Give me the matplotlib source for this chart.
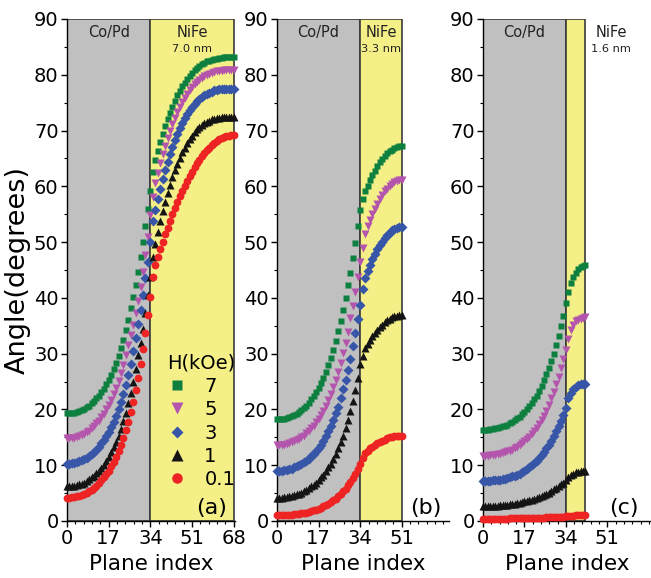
import matplotlib
matplotlib.use("Agg")
import matplotlib.pyplot as plt
from matplotlib.patches import Rectangle
from matplotlib.ticker import MultipleLocator
import numpy as np

fields = ["7", "5", "3", "1", "0.1"]

# panel (a): NiFe 7.0 nm, planes 0..68
a_h7 = [19.3, 19.3, 19.4, 19.4, 19.6, 19.7, 19.9, 20.1, 20.4, 20.7,
        21.1, 21.5, 22.0, 22.5, 23.1, 23.7, 24.5, 25.3, 26.2, 27.2,
        28.3, 29.6, 31.0, 32.5, 34.2, 36.0, 38.1, 40.2, 42.3, 44.7,
        47.4, 50.1, 52.9, 55.9, 59.2, 62.5,
        64.7, 66.4, 67.9, 69.4, 70.8, 72.0, 73.2, 74.3, 75.3, 76.3, 77.1,
        77.9, 78.6, 79.3, 79.8, 80.3, 80.8, 81.2, 81.6, 81.9, 82.1, 82.4,
        82.5, 82.7, 82.8, 82.9, 83.0, 83.0, 83.1, 83.1, 83.1, 83.1, 83.1]
a_h5 = [14.8, 14.8, 14.9, 14.9, 15.1, 15.2, 15.4, 15.6, 15.9, 16.2,
        16.6, 17.0, 17.5, 18.0, 18.6, 19.2, 20.0, 20.8, 21.7, 22.7,
        23.8, 25.1, 26.5, 28.0, 29.7, 31.6, 33.3, 35.2, 37.3, 39.5,
        41.9, 44.6, 47.6, 51.0, 54.8, 58.0,
        60.6, 62.4, 64.2, 65.8, 67.3, 68.7, 70.0, 71.2, 72.3, 73.3, 74.2,
        75.1, 75.9, 76.6, 77.2, 77.8, 78.3, 78.7, 79.1, 79.4, 79.7, 80.0,
        80.2, 80.4, 80.5, 80.6, 80.7, 80.7, 80.8, 80.8, 80.8, 80.8, 80.8]
a_h3 = [10.3, 10.3, 10.4, 10.4, 10.6, 10.7, 10.9, 11.1, 11.3, 11.6,
        12.0, 12.4, 12.8, 13.3, 13.9, 14.5, 15.2, 16.0, 16.8, 17.8,
        18.9, 20.0, 21.4, 22.8, 24.4, 26.2, 28.2, 30.4, 32.8, 35.4,
        37.8, 40.5, 43.5, 46.5, 50.1, 53.8,
        55.7, 57.7, 59.5, 61.3, 62.9, 64.4, 65.8, 67.1, 68.3, 69.4, 70.4,
        71.3, 72.2, 72.9, 73.6, 74.2, 74.8, 75.3, 75.7, 76.0, 76.4, 76.6,
        76.8, 77.0, 77.2, 77.3, 77.4, 77.4, 77.5, 77.5, 77.5, 77.5, 77.5]
a_h1 = [6.2, 6.2, 6.3, 6.3, 6.4, 6.6, 6.7, 6.9, 7.2, 7.5,
        7.8, 8.1, 8.6, 9.0, 9.5, 10.1, 10.8, 11.5, 12.3, 13.2,
        14.2, 15.3, 16.5, 17.9, 19.4, 21.1, 22.9, 25.0, 27.2, 29.7,
        32.0, 34.5, 37.3, 40.5, 43.8, 47.4,
        49.7, 51.8, 53.7, 55.5, 57.2, 58.8, 60.3, 61.6, 62.9, 64.0, 65.1,
        66.1, 66.9, 67.7, 68.4, 69.1, 69.7, 70.2, 70.6, 71.0, 71.3, 71.6,
        71.8, 72.0, 72.1, 72.3, 72.3, 72.4, 72.5, 72.5, 72.5, 72.5, 72.5]
a_h01 = [4.2, 4.2, 4.3, 4.3, 4.4, 4.5, 4.7, 4.9, 5.1, 5.3,
         5.6, 6.0, 6.3, 6.8, 7.3, 7.8, 8.4, 9.0, 9.8, 10.6,
         11.5, 12.5, 13.7, 14.9, 16.3, 17.8, 19.5, 21.4, 23.4, 25.7,
         28.2, 30.8, 33.7, 36.9, 40.2, 43.8,
         45.9, 47.3, 48.7, 50.1, 51.4, 52.6, 53.8, 55.0, 56.1, 57.2, 58.2,
         59.2, 60.1, 61.0, 61.8, 62.6, 63.4, 64.1, 64.7, 65.4, 65.9, 66.5,
         66.9, 67.4, 67.7, 68.1, 68.4, 68.6, 68.8, 69.0, 69.1, 69.2, 69.2]

# panel (b): NiFe 3.3 nm, planes 0..51
b_h7 = [18.2, 18.2, 18.3, 18.3, 18.5, 18.6, 18.8, 19.0, 19.2, 19.5,
        19.9, 20.3, 20.7, 21.2, 21.8, 22.4, 23.1, 23.9, 24.7, 25.7,
        26.8, 28.0, 29.3, 30.7, 32.3, 34.0, 35.9, 37.8, 39.9, 42.3,
        44.5, 47.2, 49.8, 52.8, 55.7,
        57.8, 59.1, 60.1, 61.1, 62.0, 62.8, 63.6, 64.3, 64.9, 65.4, 65.9,
        66.3, 66.6, 66.9, 67.1, 67.2, 67.2]
b_h5 = [13.6, 13.6, 13.7, 13.7, 13.8, 13.9, 14.1, 14.3, 14.5, 14.7,
        15.0, 15.3, 15.7, 16.1, 16.6, 17.1, 17.7, 18.3, 19.0, 19.8,
        20.7, 21.7, 22.8, 24.0, 25.3, 26.8, 28.4, 30.1, 32.0, 33.9,
        36.4, 38.6, 41.1, 43.8, 46.5,
        49.0, 51.5, 52.8, 53.9, 55.0, 56.0, 56.9, 57.7, 58.4, 59.1, 59.6,
        60.1, 60.5, 60.8, 61.0, 61.2, 61.2]
b_h3 = [9.0, 9.0, 9.0, 9.1, 9.2, 9.3, 9.4, 9.6, 9.8, 10.0,
        10.2, 10.5, 10.8, 11.2, 11.6, 12.0, 12.5, 13.1, 13.7, 14.4,
        15.2, 16.1, 17.0, 18.1, 19.3, 20.5, 22.0, 23.6, 25.3, 27.1,
        29.1, 31.3, 33.7, 36.2, 38.8,
        41.6, 43.6, 44.8, 45.9, 46.9, 47.8, 48.7, 49.4, 50.1, 50.7, 51.2,
        51.7, 52.1, 52.3, 52.5, 52.7, 52.7]
b_h1 = [4.2, 4.2, 4.2, 4.3, 4.3, 4.4, 4.5, 4.6, 4.8, 4.9,
        5.1, 5.3, 5.6, 5.9, 6.2, 6.5, 6.9, 7.3, 7.8, 8.3,
        8.9, 9.6, 10.3, 11.1, 12.0, 13.0, 14.1, 15.3, 16.6, 18.1,
        19.7, 21.5, 23.5, 25.7, 28.1,
        29.6, 31.0, 31.8, 32.5, 33.1, 33.7, 34.3, 34.8, 35.2, 35.6, 36.0,
        36.2, 36.5, 36.7, 36.8, 36.9, 36.9]
b_h01 = [1.0, 1.0, 1.0, 1.0, 1.1, 1.1, 1.1, 1.2, 1.2, 1.3,
         1.4, 1.4, 1.5, 1.6, 1.8, 1.9, 2.0, 2.2, 2.4, 2.6,
         2.8, 3.1, 3.4, 3.7, 4.0, 4.4, 4.8, 5.3, 5.8, 6.4,
         7.0, 7.7, 8.4, 9.3, 10.2,
         11.3, 12.2, 12.6, 13.0, 13.3, 13.6, 13.9, 14.2, 14.4, 14.6, 14.8,
         15.0, 15.1, 15.2, 15.3, 15.3, 15.3]

# panel (c): NiFe 1.6 nm, planes 0..42
c_h7 = [16.4, 16.4, 16.4, 16.5, 16.5, 16.6, 16.7, 16.8, 17.0, 17.1,
        17.3, 17.5, 17.8, 18.1, 18.4, 18.7, 19.1, 19.5, 20.0, 20.6,
        21.2, 21.8, 22.5, 23.3, 24.2, 25.2, 26.3, 27.5, 28.7, 30.0,
        31.5, 33.2, 34.9, 36.7, 39.0,
        41.0, 42.6, 43.7, 44.5, 45.1, 45.5, 45.8, 45.9]
c_h5 = [11.7, 11.7, 11.7, 11.8, 11.8, 11.9, 12.0, 12.1, 12.2, 12.3,
        12.5, 12.6, 12.8, 13.1, 13.3, 13.6, 13.9, 14.3, 14.7, 15.1,
        15.6, 16.1, 16.7, 17.4, 18.1, 18.9, 19.8, 20.8, 22.0, 23.2,
        24.6, 25.9, 27.4, 29.0, 30.6,
        32.7, 34.2, 35.2, 35.8, 36.1, 36.3, 36.4, 36.5]
c_h3 = [7.2, 7.2, 7.2, 7.2, 7.3, 7.3, 7.4, 7.4, 7.5, 7.6,
        7.7, 7.8, 8.0, 8.1, 8.3, 8.5, 8.7, 9.0, 9.3, 9.6,
        10.0, 10.4, 10.8, 11.3, 11.8, 12.4, 13.0, 13.7, 14.4, 15.2,
        16.1, 17.0, 17.9, 19.0, 20.2,
        22.0, 23.0, 23.7, 24.1, 24.4, 24.5, 24.6, 24.6]
c_h1 = [2.6, 2.6, 2.6, 2.6, 2.7, 2.7, 2.7, 2.8, 2.8, 2.9,
        2.9, 3.0, 3.0, 3.1, 3.2, 3.3, 3.4, 3.5, 3.6, 3.7,
        3.8, 4.0, 4.1, 4.3, 4.5, 4.7, 4.9, 5.1, 5.4, 5.7,
        6.0, 6.3, 6.6, 6.9, 7.3,
        7.8, 8.2, 8.5, 8.7, 8.8, 8.9, 8.9, 8.9]
c_h01 = [0.4, 0.4, 0.4, 0.4, 0.4, 0.4, 0.4, 0.4, 0.4, 0.4,
         0.4, 0.5, 0.5, 0.5, 0.5, 0.5, 0.5, 0.5, 0.5, 0.5,
         0.6, 0.6, 0.6, 0.6, 0.6, 0.6, 0.7, 0.7, 0.7, 0.7,
         0.8, 0.8, 0.8, 0.8, 0.9,
         0.9, 0.9, 0.9, 1.0, 1.0, 1.0, 1.0, 1.0]

panels = [
    ("(a)", "7.0 nm", 68, [a_h7, a_h5, a_h3, a_h1, a_h01]),
    ("(b)", "3.3 nm", 51, [b_h7, b_h5, b_h3, b_h1, b_h01]),
    ("(c)", "1.6 nm", 42, [c_h7, c_h5, c_h3, c_h1, c_h01]),
]
interface = 34

colors = ["#0d8040", "#b455ad", "#3856a8", "#141414", "#ee2424"]
markers = ["s", "v", "D", "^", "o"]
msizes = [5.0, 6.0, 4.6, 6.0, 5.6]

W, H = 651, 578
fig = plt.figure(figsize=(W / 100, H / 100), dpi=100)

# axes rectangles in pixels: left, right, x-limit
boxes = [(67, 235, 68.5), (277, 449, 70.3), (483, 651, 68.9)]
y0, y1 = 521, 19
label_x = {"(a)": 0.955, "(b)": 0.955, "(c)": 0.925}

for (label, nm, n_end, series), (xl, xr, xmax) in zip(panels, boxes):
    ax = fig.add_axes([xl / W, (H - y0) / H, (xr - xl) / W, (y0 - y1) / H])
    ax.set_xlim(0, xmax)
    ax.set_ylim(0, 90)
    for s in ["top", "right"]:
        ax.spines[s].set_visible(False)
    ax.spines["left"].set_linewidth(1.0)
    ax.spines["bottom"].set_linewidth(1.0)

    # material regions
    ax.add_patch(Rectangle((0, 0), interface, 90, facecolor="#c0c0c0",
                           edgecolor="#3a3a3a", lw=1.2, zorder=0))
    ax.add_patch(Rectangle((interface, 0), n_end - interface, 90,
                           facecolor="#f5ef88", edgecolor="#3a3a3a", lw=1.2,
                           zorder=0))

    x = np.arange(n_end + 1)
    lines = []
    for vals, c, m, ms, f in zip(series, colors, markers, msizes, fields):
        ln, = ax.plot(x, vals, ls="none", marker=m, ms=ms, color=c,
                      mec="none", label=f, clip_on=False, zorder=3)
        lines.append(ln)

    ax.xaxis.set_minor_locator(MultipleLocator(3.4))
    ax.yaxis.set_major_locator(MultipleLocator(10))
    ax.yaxis.set_minor_locator(MultipleLocator(5))
    ax.set_xticks([0, 17, 34, 51, 68] if label == "(a)" else [0, 17, 34, 51])
    ax.tick_params(which="major", direction="out", length=4, width=1,
                   labelsize=14, pad=2)
    ax.tick_params(which="minor", direction="out", length=2.5, width=0.8)
    ax.set_xlabel("Plane index", fontsize=15.5, labelpad=4)

    ax.text(interface / 2, 87.6, "Co/Pd", ha="center", va="center",
            fontsize=10.5, color="#222222")
    nx = (interface + n_end) / 2 if label != "(c)" else 52.5
    ax.text(nx, 87.6, "NiFe", ha="center", va="center", fontsize=10.5,
            color="#222222")
    ax.text(nx, 84.6, nm, ha="center", va="center", fontsize=8.2,
            color="#222222")

    ax.text(label_x[label], 0.006, label, transform=ax.transAxes,
            ha="right", va="bottom", fontsize=16)

    if label == "(a)":
        ax.set_ylabel("Angle(degrees)", fontsize=19.5, labelpad=2)
        ax.legend(handles=lines, title="H(kOe)", loc="lower left",
                  bbox_to_anchor=(0.55, 0.048), frameon=False,
                  fontsize=14, title_fontsize=14, markerscale=1.35,
                  handlelength=1.0, handletextpad=0.9,
                  labelspacing=0.22, borderaxespad=0)

fig.savefig("out.png", dpi=100)
